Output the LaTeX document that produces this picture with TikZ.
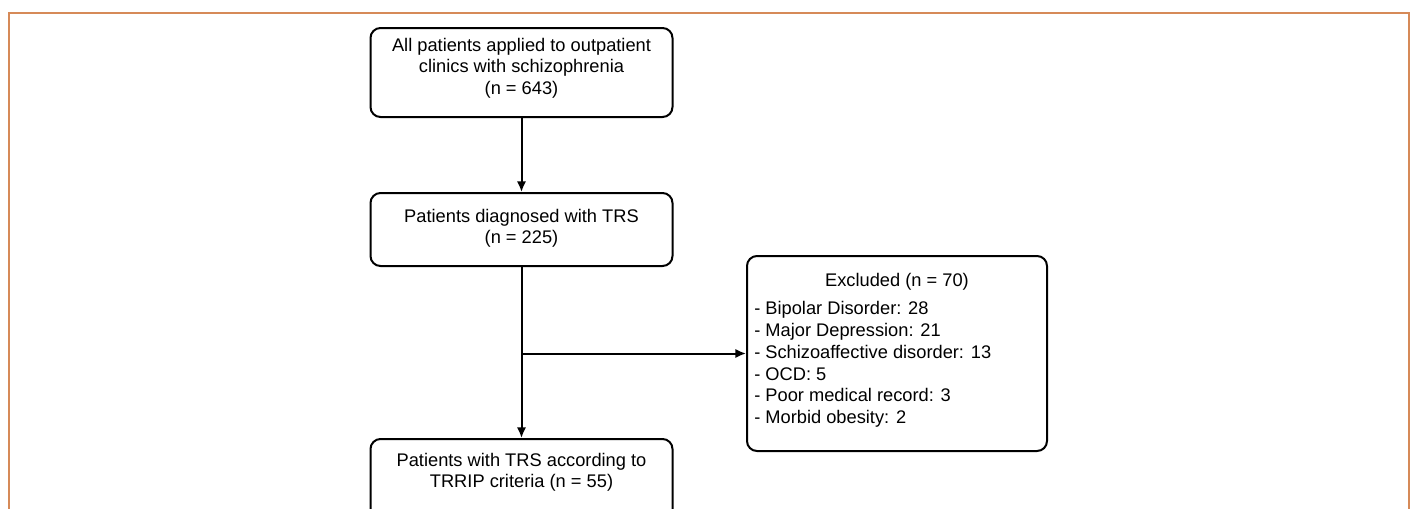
\documentclass[tikz,border=0pt]{standalone}
\usepackage{fontspec}
\setmainfont{Liberation Sans}
\usetikzlibrary{arrows.meta}
\definecolor{frameorange}{RGB}{214,138,88}
\begin{document}
\begin{tikzpicture}[x=0.75pt,y=-0.75pt,
  box/.style={draw,line width=1.5pt,rounded corners=7.5pt,inner sep=0pt,minimum width=226.5pt},
  txt/.style={inner sep=0pt,align=center,font=\fontsize{13.7}{16}\selectfont},
  arr/.style={line width=1.5pt,-{Latex[length=8pt,width=7pt]}}]
\useasboundingbox (0,0) rectangle (1413,508);
\clip (0,0) rectangle (1413,508);
\draw[frameorange,line width=1.5pt] (9,530) -- (9,13) -- (1409,13) -- (1409,530);
% boxes
\node[box,minimum height=66.75pt] (b1) at (521.5,72.5) {};
\node[txt] (b1t) at (521.5,68) {All patients applied to outpatient\\clinics with schizophrenia\\(n = 643)};
\node[box,minimum height=54.75pt] (b2) at (521.5,229.5) {};
\node[txt] (b2t) at (521.5,228.5) {Patients diagnosed with TRS\\(n = 225)};
\node[box,minimum height=67.5pt,anchor=north] (b4) at (521.5,438) {};
\node[txt] (b4t) at (521.5,472.5) {Patients with TRS according to\\TRRIP criteria (n = 55)};
\node[box,minimum width=225pt,minimum height=146.25pt] (exc) at (897,353.5) {};
\node[txt] (exct) at (897,282) {Excluded (n = 70)};
\node[txt,align=left,anchor=west,font=\fontsize{13.7}{16.3}\selectfont] (excl) at (754,364.5)
  {- Bipolar Disorder: 28\\- Major Depression: 21\\- Schizoaffective disorder: 13\\- OCD: 5\\- Poor medical record: 3\\- Morbid obesity: 2};
% connectors
\draw[arr] (b1.south) -- (b2.north);
\draw[arr] (b2.south) -- (b4.north);
\coordinate (j) at (b2.south |- exc.west);
\draw[arr] (j) -- (exc.west);
\end{tikzpicture}
\end{document}
